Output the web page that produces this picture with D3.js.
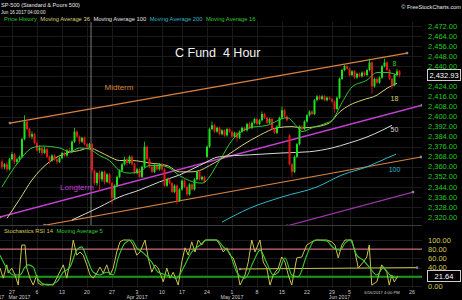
<!DOCTYPE html>
<html>
<head>
<meta charset="utf-8">
<script src="https://cdn.jsdelivr.net/npm/d3@7"></script>
<style>
  body { margin: 0; background: #000; }
  svg { display: block; font-family: "Liberation Sans", Arial, sans-serif; }
</style>
</head>
<body>
<div id="chart"></div>
<script>
const width = 462;
const height = 300;

/* Data
-----------------------------------------------------------------------------*/
// 4-hour bars, Feb 23 - Jun 16 2017: [open, high, low, close]
const bars = [
  [2364,2366,2358,2360],[2360,2363,2358,2362],[2362,2364,2356,2358],[2358,2367,2357,2366],
  [2366,2372,2365,2370],[2370,2371,2362,2364],[2364,2367,2362,2366],[2366,2369,2364,2368],
  [2368,2383,2367,2382],[2382,2401,2381,2396],[2396,2398,2389,2390],[2390,2391,2383,2384],
  [2384,2388,2382,2386],[2386,2387,2378,2379],[2379,2380,2372,2373],[2373,2377,2371,2375],
  [2375,2376,2369,2371],[2371,2376,2370,2374],[2374,2375,2367,2368],[2368,2369,2362,2365],
  [2365,2370,2364,2369],[2369,2370,2365,2366],[2366,2367,2362,2364],[2364,2368,2363,2367],
  [2367,2372,2366,2371],[2371,2372,2368,2369],[2369,2374,2368,2373],[2373,2375,2371,2372],
  [2372,2381,2371,2380],[2380,2391,2379,2388],[2388,2389,2383,2384],[2384,2385,2378,2380],
  [2380,2384,2379,2383],[2383,2384,2377,2378],[2378,2379,2374,2376],[2376,2379,2375,2378],
  [2378,2379,2355,2357],[2357,2358,2345,2347],[2347,2356,2345,2355],[2355,2357,2341,2350],
  [2350,2357,2348,2356],[2356,2357,2346,2348],[2348,2355,2347,2354],[2354,2355,2346,2347],
  [2347,2348,2330,2335],[2335,2346,2334,2345],[2345,2353,2344,2352],[2352,2358,2351,2357],
  [2357,2363,2356,2362],[2362,2368,2361,2366],[2366,2367,2361,2363],[2363,2369,2362,2368],
  [2368,2369,2361,2362],[2362,2363,2354,2355],[2355,2359,2354,2358],[2358,2359,2351,2352],
  [2352,2361,2351,2360],[2360,2380,2359,2376],[2376,2377,2365,2366],[2366,2367,2359,2360],
  [2360,2361,2355,2356],[2356,2362,2355,2361],[2361,2362,2357,2358],[2358,2363,2357,2362],
  [2362,2363,2357,2358],[2358,2359,2344,2345],[2345,2351,2344,2350],[2350,2351,2346,2347],
  [2347,2348,2339,2340],[2340,2346,2339,2345],[2345,2346,2330,2333],[2333,2343,2332,2342],
  [2342,2350,2341,2349],[2349,2350,2343,2344],[2344,2345,2337,2338],[2338,2347,2337,2346],
  [2346,2347,2341,2342],[2342,2351,2341,2350],[2350,2357,2349,2356],[2356,2357,2349,2350],
  [2350,2353,2349,2352],[2352,2353,2347,2348],[2368,2377,2367,2376],[2376,2391,2375,2390],
  [2390,2396,2389,2393],[2393,2394,2387,2388],[2388,2392,2387,2391],[2391,2392,2385,2386],
  [2386,2390,2385,2389],[2389,2390,2384,2385],[2385,2391,2384,2390],[2390,2391,2387,2388],
  [2388,2389,2383,2384],[2384,2388,2383,2387],[2387,2388,2380,2383],[2383,2389,2382,2388],
  [2388,2392,2387,2391],[2391,2392,2388,2389],[2389,2395,2388,2394],[2394,2396,2390,2391],
  [2391,2396,2390,2395],[2395,2399,2394,2398],[2398,2399,2393,2394],[2394,2398,2393,2397],
  [2397,2404,2396,2402],[2402,2403,2398,2399],[2399,2400,2394,2395],[2395,2399,2394,2398],
  [2398,2399,2389,2390],[2390,2391,2386,2387],[2387,2393,2386,2392],[2392,2400,2391,2399],
  [2399,2408,2398,2405],[2405,2406,2399,2400],[2400,2401,2396,2397],[2385,2386,2361,2362],
  [2362,2363,2352,2356],[2356,2369,2355,2368],[2368,2379,2367,2378],[2378,2393,2377,2392],
  [2392,2393,2389,2390],[2390,2397,2389,2396],[2396,2402,2395,2401],[2401,2405,2400,2404],
  [2404,2405,2401,2402],[2402,2414,2401,2413],[2413,2417,2412,2416],[2416,2417,2413,2414],
  [2414,2417,2413,2416],[2416,2417,2412,2413],[2413,2416,2412,2415],[2415,2416,2413,2414],
  [2414,2415,2411,2412],[2412,2413,2403,2406],[2406,2416,2405,2415],[2415,2431,2414,2430],
  [2430,2438,2429,2437],[2437,2441,2436,2440],[2440,2441,2437,2438],[2438,2439,2432,2433],
  [2433,2437,2432,2436],[2436,2437,2430,2431],[2431,2435,2430,2434],[2434,2435,2431,2432],
  [2432,2436,2431,2435],[2435,2436,2432,2433],[2433,2438,2432,2437],[2437,2446,2436,2443],
  [2443,2444,2418,2424],[2424,2431,2423,2430],[2430,2431,2426,2427],[2427,2432,2426,2431],
  [2431,2441,2430,2440],[2440,2446,2439,2443],[2443,2444,2436,2437],[2437,2438,2429,2430],
  [2430,2431,2422,2425],[2425,2434,2424,2433],[2433,2438,2432,2436],[2436,2437,2431,2432.93]
];
const lastPrice = 2432.93;

// moving averages: [bar, value]
const ma16 = [[0,2344],[7,2365],[12,2375],[16,2376.5],[23,2375],[27,2372],[31,2375],[35,2374],
  [39,2369],[43,2365],[47,2357],[51,2355],[55,2356],[59,2361],[63,2361],[67,2359],[71,2353],
  [75,2349],[80,2347],[87,2365],[92,2381],[99,2391],[106,2393],[114,2399],[118,2392],[120,2388],
  [124,2391],[130,2395],[132,2397],[136,2411],[140,2423.5],[146,2429],[150,2435],[154,2435],[158,2433]];
const ma36 = [[2,2319],[7,2334],[12,2349.5],[19,2364],[26,2371],[31,2373],[35,2375],[39,2372],
  [43,2368],[47,2365],[52,2365],[59,2363],[66,2361],[71,2356],[76,2356],[79,2357],[83,2361],
  [90,2369],[96,2377],[103,2385],[110,2391],[116,2392],[120,2391],[126,2392],[131,2395],
  [135,2403.5],[139,2409],[144,2413],[150,2417],[154,2422.5],[158,2426.5]];
const ma100 = [[28,2317.7],[39,2328],[47,2336],[55,2341.5],[63,2348],[71,2353.5],[79,2361],
  [87,2368],[99,2369.5],[112,2371],[123,2372],[132,2375],[139,2379],[146,2383.7],[152,2389],[156,2393]];
const ma200 = [[88,2316],[99,2327],[112,2336],[126,2344],[136,2353.5],[146,2360],[154,2367],[157.6,2370]];

// trend lines: [bar, price] end points
const midtermUpper = [[3.2,2394.8],[162,2450.5]];
const midtermLower = [[17,2313.5],[167.6,2367.8]];
const longtermUpper = [[-0.8,2320],[168,2409]];
const longtermLower = [[114,2313],[164.4,2339.9]];

// Stochastic RSI 14 and its 5-period average: [bar, value]
const stochRsi = [[-0.8,39],[0.5,17],[1.9,46],[2.5,28],[3.9,39],[5.2,24],[6.5,2],[7.9,89],[9.2,89],
  [9.9,39],[11.2,17],[12.5,2],[13.9,24],[14.5,6],[15.9,2],[17.9,4],[20.5,2],[22.5,24],[24.5,46],
  [25.9,17],[27.2,52],[28.5,100],[29.9,67],[31.2,74],[32.5,67],[33.9,46],[35.2,24],[36.5,17],
  [37.9,28],[39.2,41],[40.5,28],[41.9,46],[43.2,24],[44.5,39],[45.9,74],[47.2,96],[48.5,100],
  [51.2,100],[52.5,89],[53.9,67],[55.2,74],[57.2,100],[58.5,61],[59.9,30],[61.2,46],[62.5,39],
  [64.5,9],[65.9,39],[67.2,17],[68.5,30],[70.5,2],[71.9,52],[73.2,83],[74.5,67],[75.9,96],
  [77.2,74],[78.5,100],[79.9,89],[81.2,100],[85.9,100],[87.2,89],[88.5,74],[89.9,83],[91.2,67],
  [92.5,61],[93.9,39],[95.2,2],[97.2,24],[98.5,52],[99.9,100],[101.2,74],[103.2,100],[104.5,52],
  [105.9,39],[107.2,2],[108.5,24],[110.5,39],[111.9,63],[113.2,52],[114.5,24],[115.9,2],
  [117.9,61],[119.9,63],[121.9,89],[123.9,96],[125.9,100],[129.9,100],[131.9,96],[133.2,89],
  [134.5,61],[135.9,89],[137.2,100],[139.9,100],[141.2,74],[142.5,39],[144.5,52],[145.9,63],
  [146.9,89],[147.9,2],[149.9,9],[151.9,46],[153.9,30],[154.9,2],[155.9,24],[156.9,9],[158.4,21.64]];
const stochAvg = [[-0.8,67],[1.9,39],[4.5,24],[7.2,24],[9.2,41],[10.5,46],[12.5,41],[13.9,20],
  [15.9,6],[18.5,2],[21.9,9],[24.5,30],[27.2,41],[29.9,78],[31.9,85],[33.9,61],[36.5,30],
  [39.2,24],[41.9,30],[44.5,24],[46.5,61],[49.2,93],[51.9,100],[53.9,83],[56.5,72],[59.9,52],
  [62.5,30],[65.9,24],[69.9,17],[72.5,39],[75.9,74],[79.2,89],[81.9,100],[85.9,100],[88.5,85],
  [91.2,70],[93.9,30],[97.2,17],[100.5,52],[103.2,78],[105.9,50],[108.5,24],[110.5,30],
  [113.2,61],[115.9,24],[118.5,20],[121.9,67],[125.2,100],[129.9,98],[132.5,83],[135.2,78],
  [137.2,93],[139.2,100],[141.9,67],[144.5,56],[147.2,39],[149.9,24],[152.5,39],[155.2,24],[157.9,17]];
const stochLast = 21.64;
const stochTrend = [[95.2,37],[166,40]];
const stochLevels = [80, 20];

// axes
const priceTicks = d3.range(2320, 2473, 8);
const stochTicks = [0, 20, 40, 60, 80, 100];
const dayTickIdx = [4, 14, 24, 34, 44, 54, 64, 72, 82, 92, 102, 112, 122, 132, 139, 164];
const dayTickLabels = ['27', '6', '13', '20', '27', '3', '10', '17', '24', '1', '8', '15', '22', '29', '5', '26'];
const monthTickIdx = [-3.5, 7, 54, 92, 135];
const monthTickLabels = ['Feb 2017', 'Mar 2017', 'Apr 2017', 'May 2017', 'Jun 2017'];
const cursorIdx = 35.6;

/* Scales
-----------------------------------------------------------------------------*/
const plotRight = 422;
const x = d3.scaleLinear().domain([-0.8, 168]).range([0, plotRight]);
const y = d3.scaleLinear().domain([2313.7, 2475.2]).range([225, 22]);
const ys = d3.scaleLinear().domain([0, 100]).range([286, 240]);

const svg = d3
  .select('#chart')
  .append('svg')
  .attr('width', width)
  .attr('height', height);

svg.append('rect').attr('width', width).attr('height', height).attr('fill', '#000');

const defs = svg.append('defs');
defs.append('clipPath').attr('id', 'clipPrice')
  .append('rect').attr('x', 0).attr('y', 22).attr('width', plotRight).attr('height', 203);
defs.append('clipPath').attr('id', 'clipStoch')
  .append('rect').attr('x', 0).attr('y', 228).attr('width', plotRight).attr('height', 60);

/* Grid
-----------------------------------------------------------------------------*/
const grid = svg.append('g').attr('stroke', '#1b1b1b').attr('stroke-width', 1);
grid.selectAll('line.h')
  .data(priceTicks)
  .join('line')
  .attr('x1', 0).attr('x2', plotRight)
  .attr('y1', (d) => Math.round(y(d)) + 0.5).attr('y2', (d) => Math.round(y(d)) + 0.5);
grid.selectAll('line.sh')
  .data(stochTicks)
  .join('line')
  .attr('x1', 0).attr('x2', plotRight)
  .attr('y1', (d) => Math.round(ys(d)) + 0.5).attr('y2', (d) => Math.round(ys(d)) + 0.5);
grid.selectAll('line.v')
  .data(dayTickIdx)
  .join('line')
  .attr('x1', (d) => Math.round(x(d)) + 0.5).attr('x2', (d) => Math.round(x(d)) + 0.5)
  .attr('y1', 22).attr('y2', 288);

// panel separator
svg.append('line')
  .attr('x1', 0).attr('x2', plotRight)
  .attr('y1', 225.5).attr('y2', 225.5)
  .attr('stroke', '#3a3a3a');

// cursor line
svg.append('line')
  .attr('x1', x(cursorIdx)).attr('x2', x(cursorIdx))
  .attr('y1', 22).attr('y2', 225)
  .attr('stroke', '#9a9a9a').attr('stroke-width', 0.8);

/* Price panel
-----------------------------------------------------------------------------*/
const price = svg.append('g').attr('clip-path', 'url(#clipPrice)');

function drawTrend(points, color, width) {
  price.append('path')
    .attr('d', d3.line().x((d) => x(d[0])).y((d) => y(d[1]))(points))
    .attr('fill', 'none')
    .attr('stroke', color)
    .attr('stroke-width', width);
  price.selectAll(null)
    .data(points)
    .join('circle')
    .attr('cx', (d) => x(d[0])).attr('cy', (d) => y(d[1]))
    .attr('r', 1.4)
    .attr('fill', '#888');
}

function drawMa(points, color) {
  price.append('path')
    .attr('d', d3.line().curve(d3.curveMonotoneX).x((d) => x(d[0])).y((d) => y(d[1]))(points))
    .attr('fill', 'none')
    .attr('stroke', color)
    .attr('stroke-width', 1);
}

drawTrend(longtermLower, '#9c34a8', 1.2);
drawTrend(midtermLower, '#d9823f', 1.2);
drawTrend(longtermUpper, '#c23fd4', 1.4);
drawTrend(midtermUpper, '#d9823f', 1.2);

drawMa(ma200, '#2fb8c8');
drawMa(ma100, '#d8d8d8');
drawMa(ma36, '#d6d27a');

// candles
const candles = price.selectAll('g.candle')
  .data(bars)
  .join('g')
  .attr('class', 'candle')
  .attr('fill', (d) => (d[3] >= d[0] ? '#1fe01f' : '#e81818'))
  .attr('stroke', (d) => (d[3] >= d[0] ? '#1fe01f' : '#e81818'));

candles.append('line')
  .attr('x1', (d, i) => x(i)).attr('x2', (d, i) => x(i))
  .attr('y1', (d) => y(d[1])).attr('y2', (d) => y(d[2]))
  .attr('stroke-width', 0.8);

candles.append('rect')
  .attr('stroke', 'none')
  .attr('x', (d, i) => x(i) - 1)
  .attr('width', 2)
  .attr('y', (d) => y(Math.max(d[0], d[3])))
  .attr('height', (d) => Math.max(1, Math.abs(y(d[0]) - y(d[3]))));

drawMa(ma16, '#2fc82f');

// annotations
const notes = svg.append('g').attr('font-size', 8);
notes.append('text').attr('x', x(46.8)).attr('y', y(2423.5)).attr('dy', '0.35em')
  .attr('text-anchor', 'middle').attr('fill', '#d9823f').text('Midterm');
notes.append('text').attr('x', x(30)).attr('y', y(2344)).attr('dy', '0.35em')
  .attr('text-anchor', 'middle').attr('fill', '#c23fd4').text('Longterm');

const maLabels = svg.append('g').attr('font-size', 7).attr('text-anchor', 'middle');
[
  ['8', 2441.8, '#2fc82f'],
  ['18', 2414, '#d6d27a'],
  ['50', 2390, '#d8d8d8'],
  ['100', 2358, '#2fb8c8'],
].forEach(([t, p, c]) => {
  maLabels.append('text').attr('x', x(157)).attr('y', y(p)).attr('dy', '0.35em')
    .attr('fill', c).text(t);
});

svg.append('text')
  .attr('x', 175).attr('y', 57)
  .attr('font-size', 12.5).attr('fill', '#f2f2f2')
  .attr('xml:space', 'preserve')
  .style('white-space', 'pre')
  .text('C Fund  4 Hour');

/* Stochastic panel
-----------------------------------------------------------------------------*/
const stoch = svg.append('g').attr('clip-path', 'url(#clipStoch)');

stoch.selectAll('line.level')
  .data(stochLevels)
  .join('line')
  .attr('x1', 0).attr('x2', plotRight)
  .attr('y1', (d) => ys(d)).attr('y2', (d) => ys(d))
  .attr('stroke', (d) => (d > 50 ? '#c46a74' : '#189a18'))
  .attr('stroke-width', (d) => (d > 50 ? 1.3 : 2));

stoch.append('path')
  .attr('d', d3.line().x((d) => x(d[0])).y((d) => ys(d[1]))(stochTrend))
  .attr('fill', 'none').attr('stroke', '#c9c04a').attr('stroke-width', 1);
stoch.selectAll('circle')
  .data(stochTrend)
  .join('circle')
  .attr('cx', (d) => x(d[0])).attr('cy', (d) => ys(d[1]))
  .attr('r', 1.3).attr('fill', '#888');

stoch.append('path')
  .attr('d', d3.line().x((d) => x(d[0])).y((d) => ys(d[1]))(stochRsi))
  .attr('fill', 'none').attr('stroke', '#c8c24a').attr('stroke-width', 1);

stoch.append('path')
  .attr('d', d3.line().curve(d3.curveMonotoneX).x((d) => x(d[0])).y((d) => ys(d[1]))(stochAvg))
  .attr('fill', 'none').attr('stroke', '#35cc35').attr('stroke-width', 1.1);

/* Axes
-----------------------------------------------------------------------------*/
// labels hidden behind the value boxes are left out
const priceAxis = svg.append('g').attr('font-size', 7.5).attr('fill', '#22cc22');
priceAxis.selectAll('text')
  .data(priceTicks.filter((d) => Math.abs(y(d) - y(lastPrice)) > 6))
  .join('text')
  .attr('x', 428).attr('y', (d) => y(d)).attr('dy', '0.35em')
  .text((d) => d3.format(',.2f')(d));

const stochAxis = svg.append('g').attr('font-size', 7.5).attr('fill', '#d4cc50');
stochAxis.selectAll('text')
  .data(stochTicks.filter((d) => Math.abs(ys(d) - ys(stochLast)) > 6))
  .join('text')
  .attr('x', 428).attr('y', (d) => ys(d)).attr('dy', '0.35em')
  .text((d) => d3.format('.2f')(d));

function valueBox(yPos, label) {
  const g = svg.append('g');
  g.append('rect')
    .attr('x', 427.5).attr('y', Math.round(yPos) - 5.5)
    .attr('width', 33).attr('height', 11)
    .attr('fill', '#000').attr('stroke', '#cfcfcf').attr('stroke-width', 1);
  g.append('text')
    .attr('x', 444).attr('y', yPos).attr('dy', '0.35em')
    .attr('text-anchor', 'middle')
    .attr('font-size', 7.5).attr('fill', '#fff')
    .text(label);
}
valueBox(y(lastPrice), d3.format(',.2f')(lastPrice));
valueBox(ys(stochLast), d3.format('.2f')(stochLast));

const timeAxis = svg.append('g').attr('font-size', 5.2).attr('fill', '#cfcfcf').attr('text-anchor', 'middle');
timeAxis.selectAll('text.day')
  .data(dayTickIdx)
  .join('text')
  .attr('class', 'day')
  .attr('x', (d) => x(d)).attr('y', 293.5)
  .text((d, i) => dayTickLabels[i]);
timeAxis.selectAll('text.month')
  .data(monthTickIdx)
  .join('text')
  .attr('class', 'month')
  .attr('x', (d) => x(d)).attr('y', 298.5)
  .text((d, i) => monthTickLabels[i]);

// cursor time label
svg.append('rect')
  .attr('x', x(152) - 13).attr('y', 289).attr('width', 26).attr('height', 6)
  .attr('fill', '#000');
svg.append('text')
  .attr('x', x(152)).attr('y', 293.5)
  .attr('text-anchor', 'middle').attr('font-size', 4.2).attr('fill', '#cfcfcf')
  .text('6/16/2017 4:00 PM');

/* Header and legends
-----------------------------------------------------------------------------*/
svg.append('text').attr('x', 1).attr('y', 7).attr('font-size', 5.6).attr('fill', '#e8e8e8')
  .text('SP-500 (Standard & Poors 500)');
svg.append('text').attr('x', 1).attr('y', 14).attr('font-size', 4.6).attr('fill', '#e8e8e8')
  .text('Jun 16 2017 04:00:00');
svg.append('text').attr('x', 461).attr('y', 9).attr('font-size', 5.6).attr('fill', '#e8e8e8')
  .attr('text-anchor', 'end').text('\u00a9 FreeStockCharts.com');

function legend(items, yPos) {
  const t = svg.append('text').attr('x', 4).attr('y', yPos).attr('font-size', 5.8);
  items.forEach(([label, color], i) => {
    t.append('tspan').attr('fill', color).attr('dx', i ? 3.5 : 0).text(label);
  });
}
legend([
  ['Price History', '#2fc82f'],
  ['Moving Average 36', '#d6d27a'],
  ['Moving Average 100', '#e0e0e0'],
  ['Moving Average 200', '#2fb8c8'],
  ['Moving Average 16', '#2fc82f'],
], 21);
legend([
  ['Stochastics RSI 14', '#d4cc50'],
  ['Moving Average 5', '#35cc35'],
], 232.5);
</script>
</body>
</html>
